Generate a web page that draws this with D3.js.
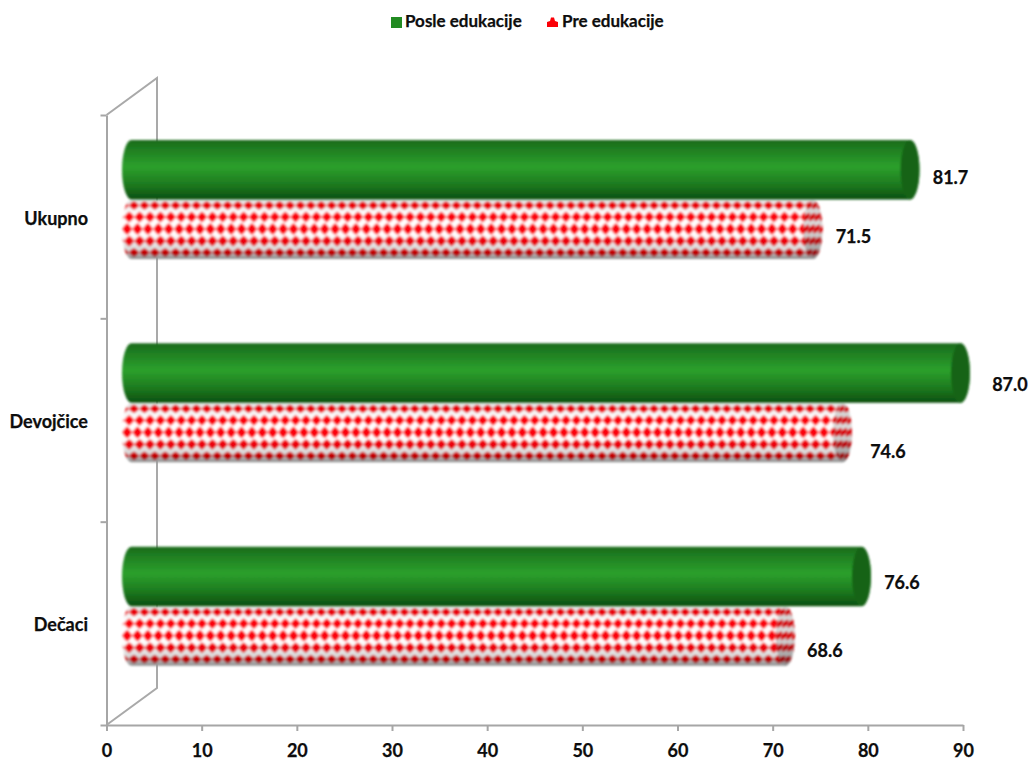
<!DOCTYPE html>
<html>
<head>
<meta charset="utf-8">
<script src="https://cdn.jsdelivr.net/npm/d3@7"></script>
<style>
html,body{margin:0;padding:0;background:#fff}
svg{display:block}
text{font-family:Lato,"Open Sans",sans-serif;font-weight:700;fill:#0d0d0d;stroke:#0d0d0d;stroke-width:0.25px}
</style>
</head>
<body>
<script>
const categories = ["Ukupno", "Devojčice", "Dečaci"];
const seriesNames = ["Posle edukacije", "Pre edukacije"];
const posle = [81.7, 87.0, 76.6];
const pre = [71.5, 74.6, 68.6];
const xTicks = [0, 10, 20, 30, 40, 50, 60, 70, 80, 90];

const W = 1031, H = 760;
const x0 = 106.5, x1 = 963, yTop = 115, yBot = 725;
const depthX = 50.5, depthY = 37;      // side-wall perspective
const barLeft = 122, endShift = 35.5, capRx = 9.5;
const barsTop = 25, barsH = 119;
const labelFont = 18, legendFont = 17;
// placement of value labels from bar end / bar centre [posle, pre] for each category
const labelDx = [[31, 31], [40, 36], [31, 30]];
const labelDy = [[14, 14], [18, 25], [13, 21]];

const svg = d3.select("body").append("svg").attr("width", W).attr("height", H);
const defs = svg.append("defs");

const blur = defs.append("filter").attr("id", "soft")
  .attr("x", "-2%").attr("y", "-5%").attr("width", "104%").attr("height", "110%");
blur.append("feGaussianBlur").attr("stdDeviation", 0.85);

function vGrad(id, stops) {
  const g = defs.append("linearGradient").attr("id", id)
    .attr("x1", 0).attr("y1", 0).attr("x2", 0).attr("y2", 1);
  stops.forEach(s => g.append("stop").attr("offset", s[0]).attr("stop-color", s[1]).attr("stop-opacity", s[2] === undefined ? 1 : s[2]));
}
vGrad("greenBody", [[0, "#1a6a1c"], [0.12, "#1e7a20"], [0.45, "#2ca02c"], [0.75, "#1d7a1f"], [1, "#0c4f0f"]]);
vGrad("redShade", [[0, "#000", 0.12], [0.25, "#000", 0], [0.6, "#000", 0], [0.85, "#000", 0.16], [1, "#000", 0.45]]);
vGrad("capShade", [[0, "#000", 0.18], [0.5, "#000", 0.14], [1, "#000", 0.45]]);

// dotted fabric: five rows of rounded, near-touching dots, squeezed toward the cylinder's edges
const rows = [
  { y: 6, hh: 4.2, dx: 7.2 },
  { y: 17.5, hh: 5.2, dx: 2.4 },
  { y: 29.5, hh: 5.8, dx: 0.4 },
  { y: 41.5, hh: 5.2, dx: 2.4 },
  { y: 53, hh: 4.2, dx: 7.2 }
];
function dotted(id, w, hw, tilt) {
  const p = defs.append("pattern").attr("id", id).attr("patternUnits", "userSpaceOnUse")
    .attr("width", w).attr("height", 60);
  p.append("rect").attr("width", w).attr("height", 60).attr("fill", "#fff");
  const k = 0.62;
  rows.forEach(r => {
    [-w, 0, w].forEach(s => {
      const cx = (r.dx + 2) * w / 10.4 + s;
      p.append("path")
        .attr("d", `M${cx - hw},${r.y} Q${cx - hw * k},${r.y - r.hh * k} ${cx},${r.y - r.hh} Q${cx + hw * k},${r.y - r.hh * k} ${cx + hw},${r.y} Q${cx + hw * k},${r.y + r.hh * k} ${cx},${r.y + r.hh} Q${cx - hw * k},${r.y + r.hh * k} ${cx - hw},${r.y} Z`)
        .attr("fill", "#fb0007")
        .attr("transform", tilt ? `rotate(${tilt} ${cx} ${r.y})` : null);
    });
  });
}
dotted("dots", 10.4, 5.0, 0);
dotted("capDots", 5.4, 2.6, 35);

const x = d3.scaleLinear().domain([0, 90]).range([x0, x1]);
const yBand = d3.scaleBand().domain(categories).range([yTop, yBot]);
const yEdges = d3.scaleLinear().domain([0, categories.length]).range([yBot, yTop]);
const inner = d3.scaleBand().domain(seriesNames).range([0, barsH]);

// side wall
svg.append("path")
  .attr("d", d3.line()([[x0, yTop], [x0 + depthX, yTop - depthY], [x0 + depthX, yBot - depthY], [x0, yBot]]))
  .attr("fill", "none").attr("stroke", "#a9a9a9").attr("stroke-width", 2);

// axes
const axisStyle = g => {
  g.selectAll(".domain,line").attr("stroke", "#a6a6a6").attr("stroke-width", 2);
};
svg.append("g").attr("transform", `translate(0,${yBot})`)
  .call(d3.axisBottom(x).tickValues(xTicks).tickSize(6).tickSizeOuter(0).tickPadding(13))
  .call(axisStyle)
  .call(g => g.selectAll("text").attr("font-size", labelFont).attr("fill", "#0d0d0d").style("font-family", "Lato").style("font-weight", 700));
svg.append("g").attr("transform", `translate(${x0},0)`)
  .call(d3.axisLeft(yEdges).ticks(categories.length).tickSize(6).tickSizeOuter(0).tickFormat(""))
  .call(axisStyle);

svg.selectAll(".cat").data(categories).join("text").attr("class", "cat")
  .attr("x", 88).attr("y", d => yBand(d) + yBand.bandwidth() / 2 + 8)
  .attr("text-anchor", "end").attr("font-size", labelFont).text(d => d);

function barPath(right, h) {
  const ry = h / 2;
  return `M${barLeft + capRx},0 L${right - capRx},0 A${capRx},${ry} 0 0 1 ${right - capRx},${h}` +
         ` L${barLeft + capRx},${h} A${capRx},${ry} 0 0 1 ${barLeft + capRx},0 Z`;
}

categories.forEach((c, i) => {
  const top = yBand(c) + barsTop;
  // red drawn first: the green bar rests on top of it
  const gr = svg.append("g").attr("transform", `translate(0,${top + inner(seriesNames[1])})`).attr("filter", "url(#soft)");
  const h = inner.bandwidth();
  const rr = x(pre[i]) + endShift;
  gr.append("path").attr("d", barPath(rr, h)).attr("fill", "url(#dots)");
  gr.append("path").attr("d", barPath(rr, h)).attr("fill", "url(#redShade)");
  gr.append("ellipse").attr("cx", rr - capRx).attr("cy", h / 2).attr("rx", capRx).attr("ry", h / 2).attr("fill", "url(#capDots)");
  gr.append("ellipse").attr("cx", rr - capRx).attr("cy", h / 2).attr("rx", capRx).attr("ry", h / 2).attr("fill", "url(#capShade)");

  const gg = svg.append("g").attr("transform", `translate(0,${top})`).attr("filter", "url(#soft)");
  const gEnd = x(posle[i]) + endShift;
  gg.append("path").attr("d", barPath(gEnd, h)).attr("fill", "url(#greenBody)");
  gg.append("ellipse").attr("cx", gEnd - capRx).attr("cy", h / 2).attr("rx", capRx).attr("ry", h / 2).attr("fill", "#146316");

  svg.append("text").attr("x", gEnd + labelDx[i][0]).attr("y", top + h / 2 + labelDy[i][0])
    .attr("text-anchor", "middle").attr("font-size", labelFont).text(posle[i].toFixed(1));
  svg.append("text").attr("x", rr + labelDx[i][1]).attr("y", top + inner(seriesNames[1]) + h / 2 + labelDy[i][1])
    .attr("text-anchor", "middle").attr("font-size", labelFont).text(pre[i].toFixed(1));
});

// legend
const legY = 27;
svg.append("rect").attr("x", 391).attr("y", 17).attr("width", 11).attr("height", 11).attr("fill", "#228b22");
svg.append("text").attr("x", 405).attr("y", legY).attr("font-size", legendFont).text(seriesNames[0]);
svg.append("path").attr("d", "M547,27 L547,22 L550,21 L551,17.5 L554,17.5 L555,21 L558,22 L558,27 Z").attr("fill", "#fb0007");
svg.append("text").attr("x", 562).attr("y", legY).attr("font-size", legendFont).text(seriesNames[1]);
</script>
</body>
</html>
